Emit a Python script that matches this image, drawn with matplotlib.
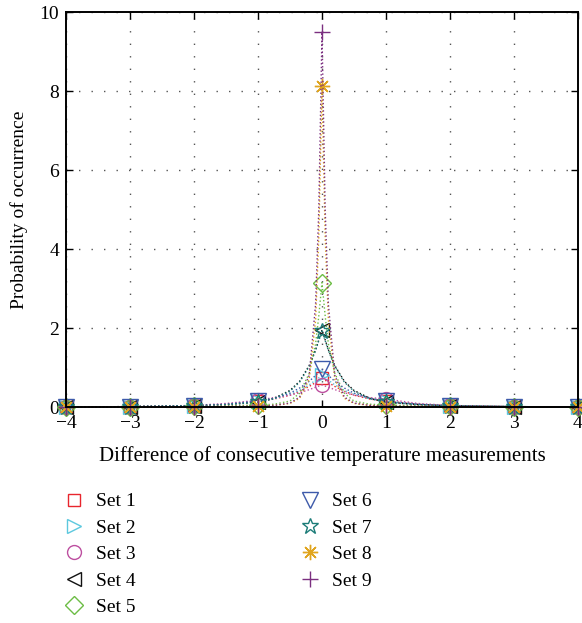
import numpy as np
import matplotlib
matplotlib.use("Agg")
import matplotlib.pyplot as plt

plt.rcParams['font.family'] = ['Liberation Serif', 'DejaVu Serif']

# x positions of the curves; markers sit on the integer ones
curve_x = [-4, -3, -2, -1.5, -1, -0.75, -0.5, -0.35, -0.2, -0.1, -0.05, 0,
           0.05, 0.1, 0.2, 0.35, 0.5, 0.75, 1, 1.5, 2, 3, 4]
marker_idx = [0, 1, 2, 4, 11, 18, 20, 21, 22]

set1 = [0, 0.01, 0.03, 0.07, 0.15, 0.2, 0.3, 0.4, 0.52, 0.62, 0.68, 0.73,
        0.68, 0.62, 0.52, 0.4, 0.3, 0.2, 0.15, 0.07, 0.03, 0.01, 0]
set2 = [0, 0.01, 0.03, 0.07, 0.15, 0.21, 0.32, 0.42, 0.56, 0.68, 0.74, 0.80,
        0.74, 0.68, 0.56, 0.42, 0.32, 0.21, 0.14, 0.07, 0.03, 0.01, 0]
set3 = [0, 0.01, 0.04, 0.09, 0.17, 0.24, 0.3, 0.36, 0.44, 0.5, 0.53, 0.56,
        0.53, 0.5, 0.44, 0.36, 0.3, 0.24, 0.2, 0.09, 0.04, 0.01, 0]
set4 = [0, 0.01, 0.03, 0.06, 0.12, 0.22, 0.42, 0.65, 1.05, 1.45, 1.7, 1.95,
        1.7, 1.45, 1.05, 0.65, 0.42, 0.22, 0.12, 0.06, 0.03, 0.01, 0]
set5 = [0, 0.01, 0.02, 0.03, 0.05, 0.07, 0.15, 0.35, 0.85, 1.6, 2.3, 3.15,
        2.3, 1.6, 0.85, 0.35, 0.15, 0.07, 0.05, 0.03, 0.02, 0.01, 0]
set6 = [0, 0.01, 0.03, 0.07, 0.15, 0.22, 0.35, 0.48, 0.65, 0.8, 0.88, 0.95,
        0.88, 0.8, 0.65, 0.48, 0.35, 0.22, 0.15, 0.07, 0.03, 0.01, 0]
set7 = [0, 0.01, 0.03, 0.06, 0.12, 0.21, 0.4, 0.63, 1.03, 1.43, 1.68, 1.92,
        1.68, 1.43, 1.03, 0.63, 0.4, 0.21, 0.12, 0.06, 0.03, 0.01, 0]
set8 = [0, 0.0, 0.01, 0.015, 0.02, 0.04, 0.09, 0.22, 0.7, 2.2, 4.3, 8.12,
        4.3, 2.2, 0.7, 0.22, 0.09, 0.04, 0.02, 0.015, 0.01, 0.0, 0]
set9 = [0, 0.0, 0.01, 0.015, 0.02, 0.04, 0.1, 0.25, 0.8, 2.6, 5.0, 9.49,
        5.0, 2.6, 0.8, 0.25, 0.1, 0.04, 0.02, 0.015, 0.01, 0.0, 0]

series = [set1, set2, set3, set4, set5, set6, set7, set8, set9]
labels = ['Set 1', 'Set 2', 'Set 3', 'Set 4', 'Set 5',
          'Set 6', 'Set 7', 'Set 8', 'Set 9']
colors = ['#e8252d', '#5cc8de', '#bd4fa0', '#111111', '#6cbd45',
          '#3d5aaa', '#1c7c78', '#e0a51f', '#7b2f80']
markers = ['s', '>', 'o', '<', 'D', 'v', '*', (8, 2, 0), '+']
sizes = [8, 10, 10, 10, 9, 11, 12, 11, 12]

fig = plt.figure(figsize=(5.82, 6.23), dpi=100)
ax = fig.add_axes([0.1134, 0.3467, 0.8797, 0.634])

for y, lab, c, m, s in zip(series, labels, colors, markers, sizes):
    ax.plot(curve_x, y, linestyle=':', linewidth=1.0, color=c,
            marker=m, markevery=marker_idx, markersize=s,
            markerfacecolor='none', markeredgecolor=c, markeredgewidth=1.0,
            label=lab, clip_on=False)

ax.set_xlim(-4, 4)
ax.set_ylim(0, 10)
ax.set_xticks(range(-4, 5))
ax.set_yticks(range(0, 11, 2))
ax.grid(True, color='#555555', linestyle=(0, (1, 8)), linewidth=1.0)
ax.tick_params(direction='in', top=True, right=True, labelsize=14,
               length=5, width=1)
ax.tick_params(axis='x', pad=6)
ax.tick_params(axis='y', pad=5)
for sp in ax.spines.values():
    sp.set_linewidth(1.4)

ax.set_xlabel('Difference of consecutive temperature measurements',
              fontsize=15, labelpad=10)
ax.set_ylabel('Probability of occurrence', fontsize=14, labelpad=8)

leg = ax.legend(loc='upper left', bbox_to_anchor=(0.080, 0.237),
                bbox_transform=fig.transFigure, ncol=2, frameon=False,
                fontsize=14, handlelength=1.0, handletextpad=0.65,
                columnspacing=8.45, labelspacing=0.45)
for h in leg.legend_handles:
    h.set_linestyle('None')

fig.savefig('out.png', dpi=100)
